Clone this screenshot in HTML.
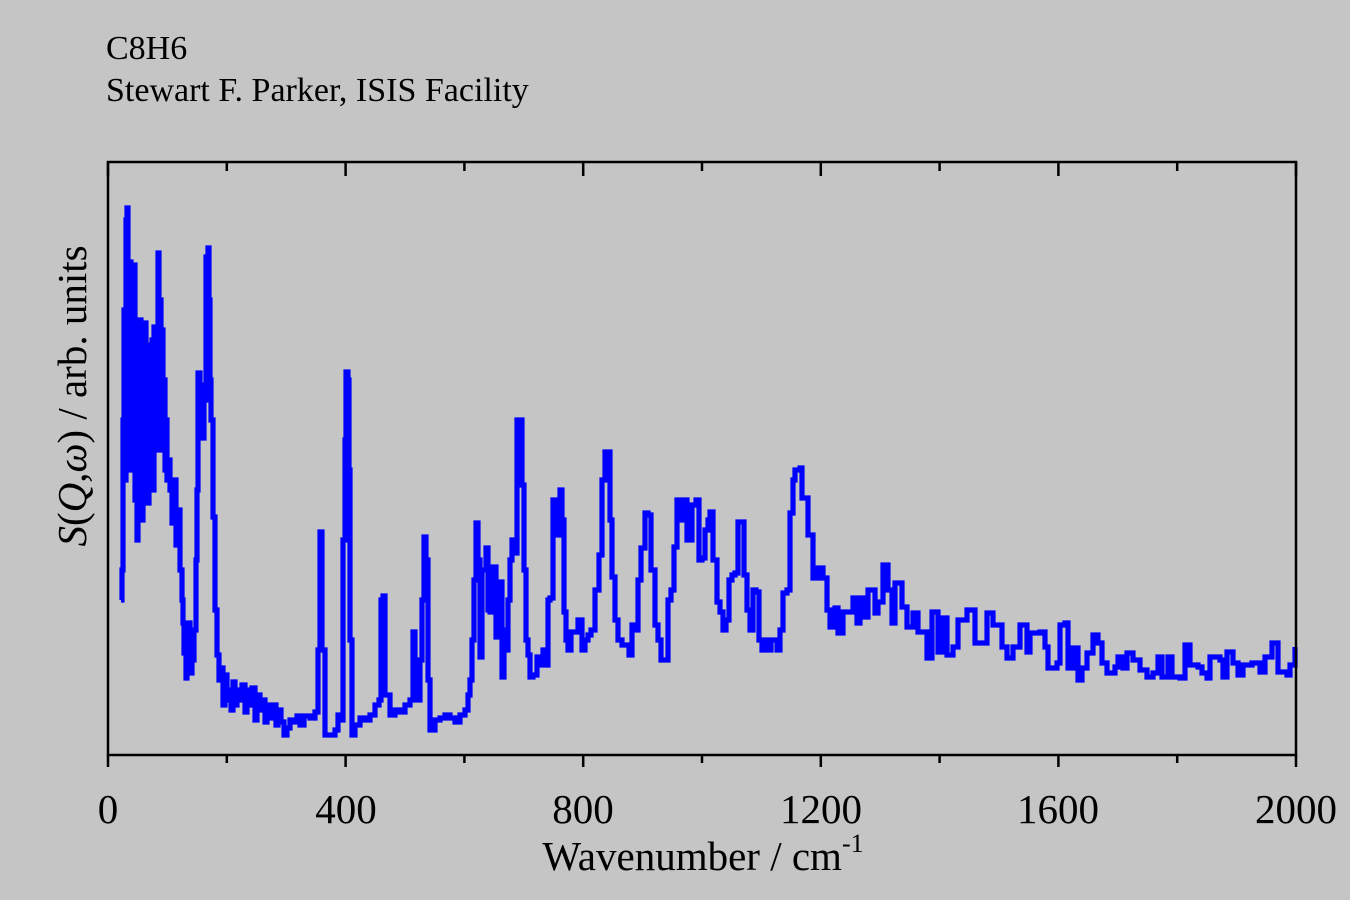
<!DOCTYPE html>
<html><head><meta charset="utf-8"><style>
body{margin:0;background:#c5c5c5;}
svg{display:block;}
text{font-family:"Liberation Serif",serif;fill:#000;}
</style></head><body>
<svg id="s" width="1350" height="900" xmlns="http://www.w3.org/2000/svg">
<rect width="1350" height="900" fill="#c5c5c5"/>
<text x="106" y="59" font-size="34">C8H6</text>
<text x="106" y="101" font-size="34">Stewart F. Parker, ISIS Facility</text>
<path id="p" fill="none" stroke="#0000ff" stroke-width="5.2" stroke-linejoin="miter"/>
<rect x="108" y="162" width="1188" height="593" fill="none" stroke="#000" stroke-width="2.5"/>
<g id="t" stroke="#000" stroke-width="2.5"></g>
<g font-size="41" text-anchor="middle">
<text x="108" y="823">0</text><text x="346" y="823">400</text><text x="583" y="823">800</text>
<text x="821" y="823">1200</text><text x="1058" y="823">1600</text><text x="1296" y="823">2000</text>
<text x="703" y="870">Wavenumber / cm<tspan font-size="26" dy="-18">-1</tspan></text>
</g>
<text font-size="41" text-anchor="middle" transform="translate(86,396) rotate(-90)"><tspan font-style="italic">S</tspan>(<tspan font-style="italic">Q</tspan>,<tspan font-style="italic">ω</tspan>) / arb. units</text>
</svg>
<script>
var pts=[[121,600],[122,570],[123,420],[124,310],[125,480],[126,220],[127,208],[128,400],[129,470],[130,262],[131,380],[132,265],[133,470],[134,265],[135,500],[136,340],[137,540],[138,380],[139,520],[140,320],[141,450],[142,520],[143,340],[144,500],[145,323],[146,480],[147,350],[148,503],[149,370],[150,345],[151,460],[152,340],[153,490],[154,327],[155,430],[156,335],[157,450],[158,253],[159,450],[160,300],[161,410],[162,330],[163,430],[164,380],[165,470],[166,420],[167,480],[168,460],[170,490],[172,523],[174,480],[176,545],[178,510],[180,570],[182,600],[183,623],[184,653],[186,678],[187,640],[188,623],[190,673],[192,660],[194,630],[196,560],[197,490],[198,373],[200,385],[202,438],[204,400],[206,257],[207,265],[208,248],[209,300],[210,380],[211,420],[213,517],[215,610],[217,655],[219,680],[221,668],[223,705],[225,675],[227,700],[229,690],[231,710],[233,682],[235,705],[237,690],[240,700],[242,685],[245,712],[247,690],[250,705],[252,688],[255,720],[257,695],[260,710],[262,700],[265,722],[267,705],[270,718],[273,705],[276,725],[278,710],[281,722],[284,735],[287,728],[290,720],[294,722],[297,716],[300,725],[304,716],[310,718],[315,712],[318,650],[320,532],[322,650],[325,735],[330,735],[335,730],[338,715],[341,720],[343,540],[345,440],[346,372],[348,380],[349,470],[350,640],[352,735],[355,725],[360,718],[365,720],[370,715],[375,705],[379,700],[381,600],[383,596],[385,695],[390,715],[395,710],[400,712],[405,705],[410,700],[413,632],[415,660],[418,700],[420,660],[422,600],[424,537],[426,560],[428,680],[430,730],[435,720],[440,718],[445,715],[450,718],[455,722],[460,715],[465,710],[468,695],[470,680],[472,640],[474,580],[476,523],[478,560],[480,657],[482,570],[484,570],[486,548],[488,610],[490,612],[493,567],[496,637],[498,590],[500,582],[502,677],[504,630],[506,650],[508,600],[510,560],[512,540],[514,553],[517,420],[520,420],[522,485],[524,570],[526,640],[528,655],[530,677],[533,675],[537,657],[540,665],[543,650],[546,665],[548,600],[550,598],[553,500],[556,500],[558,535],[560,490],[562,520],[564,612],[566,640],[568,650],[571,632],[575,632],[578,620],[582,650],[585,640],[588,635],[591,630],[595,590],[599,555],[602,480],[605,452],[608,452],[610,520],[612,577],[615,620],[618,640],[622,645],[626,645],[629,655],[632,625],[635,630],[638,580],[641,548],[645,513],[648,515],[651,570],[655,625],[658,640],[661,660],[665,660],[668,600],[671,590],[674,547],[677,500],[681,520],[684,500],[687,540],[689,540],[692,505],[696,500],[699,560],[702,558],[705,530],[708,520],[710,512],[713,560],[717,602],[720,612],[723,630],[726,620],[729,580],[732,575],[735,573],[738,522],[741,522],[744,575],[747,610],[750,630],[753,590],[756,592],[759,640],[762,650],[765,640],[768,650],[771,640],[774,640],[777,650],[780,630],[783,593],[787,590],[790,513],[793,480],[795,470],[800,468],[802,498],[808,535],[813,578],[818,568],[823,578],[827,610],[830,627],[835,608],[838,633],[843,612],[848,612],[853,598],[857,623],[860,598],[863,617],[868,590],[875,613],[878,602],[883,565],[888,590],[892,623],[895,583],[902,607],[907,627],[913,613],[918,632],[927,658],[932,612],[938,652],[943,618],[947,655],[953,647],[958,620],[967,610],[975,643],[987,613],[993,625],[1002,647],[1007,658],[1013,647],[1020,625],[1027,652],[1030,633],[1040,632],[1045,647],[1048,668],[1057,663],[1060,625],[1065,623],[1068,668],[1073,648],[1078,680],[1082,668],[1087,653],[1093,635],[1098,643],[1102,663],[1107,673],[1115,667],[1118,657],[1123,668],[1127,653],[1133,660],[1140,670],[1147,677],[1153,673],[1158,657],[1162,677],[1168,657],[1172,677],[1180,678],[1185,645],[1190,665],[1198,667],[1202,673],[1207,678],[1210,657],[1220,660],[1223,677],[1227,652],[1233,663],[1238,675],[1243,665],[1252,663],[1260,672],[1265,657],[1272,643],[1278,672],[1287,675],[1290,665],[1295,647]];
var d="M"+pts[0][0]+" "+pts[0][1];
for(var i=1;i<pts.length;i++){d+=" H"+pts[i][0]+" V"+pts[i][1];}
document.getElementById("p").setAttribute("d",d);
var g=document.getElementById("t"),h="";
for(var v=0;v<=2000;v+=200){var x=108+v*1188/2000;var maj=(v%400==0);
h+='<line x1="'+x+'" y1="755" x2="'+x+'" y2="'+(maj?767:763)+'"/>';
h+='<line x1="'+x+'" y1="162" x2="'+x+'" y2="'+(maj?176:171)+'"/>';}
g.innerHTML=h;
</script>
</body></html>
